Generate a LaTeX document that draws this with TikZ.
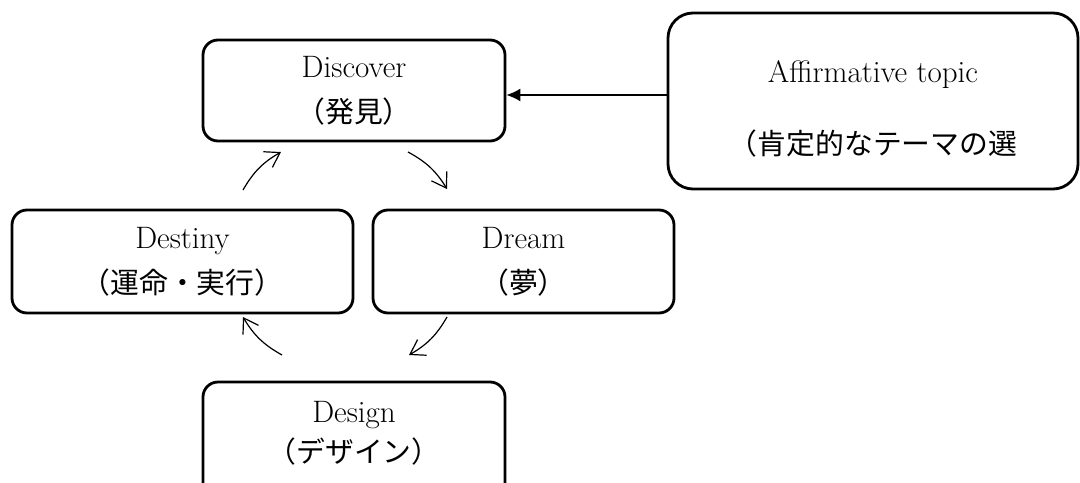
\documentclass[tikz,border=0pt]{standalone}
\usepackage{fontspec}
\newfontfamily\cjk[Scale=0.93]{Noto Sans CJK JP}
\usetikzlibrary{arrows.meta}
\tikzset{
  cyclebox/.style={draw, line width=1.4pt, rounded corners=7.5pt, align=center, inner sep=0pt},
  topicbox/.style={cyclebox, rounded corners=12.5pt},
  cyclearrow/.style={-{Straight Barb[length=7pt,width=9pt]}, line width=0.6pt, bend left=15},
  feedarrow/.style={-{Latex[length=7pt,width=6.5pt]}, line width=0.8pt}
}

\begin{document}
\begin{tikzpicture}[x=0.5pt, y=-0.5pt, font=\fontsize{15.5}{22.5}\selectfont]
\useasboundingbox (0,0) rectangle (1080,482);

% the four phases
\node[cyclebox, minimum width=151pt, minimum height=50.5pt] (discover) at (354,90.5)
  {Discover\\{\cjk （発見）}};
\node[cyclebox, minimum width=150.5pt, minimum height=51.5pt] (dream) at (523.5,261.5)
  {Dream\\{\cjk （夢）}};
\node[cyclebox, minimum width=151pt, minimum height=65pt] (design) at (354,447)
  {Design\\[-2.5pt]{\cjk （デザイン）}\rule[-15pt]{0pt}{15pt}};
\node[cyclebox, minimum width=170.5pt, minimum height=51.5pt] (destiny) at (182.5,261.5)
  {Destiny\\{\cjk （運命・実行）}};

% the topic box
\node[topicbox, minimum width=205pt, minimum height=88pt] (topic) at (873,101)
  {\rule{0pt}{19pt}Affirmative topic\\[13.5pt]{\cjk （肯定的なテーマの選}};

% ends of the cycle arrows
\coordinate (destinyout) at (243,190);
\coordinate (discoverin) at (281,152);
\coordinate (discoverout) at (408,152);
\coordinate (dreamin) at (447,189);
\coordinate (dreamout) at (447,317);
\coordinate (designin) at (409,355);
\coordinate (designout) at (282,355);
\coordinate (destinyin) at (243,317);

\draw[cyclearrow] (destinyout) to (discoverin);
\draw[cyclearrow] (discoverout) to (dreamin);
\draw[cyclearrow] (dreamout) to (designin);
\draw[cyclearrow] (designout) to (destinyin);

\draw[feedarrow] ([yshift=3pt]topic.west) -- ([yshift=3pt]topic.west -| discover.east);
\end{tikzpicture}
\end{document}
